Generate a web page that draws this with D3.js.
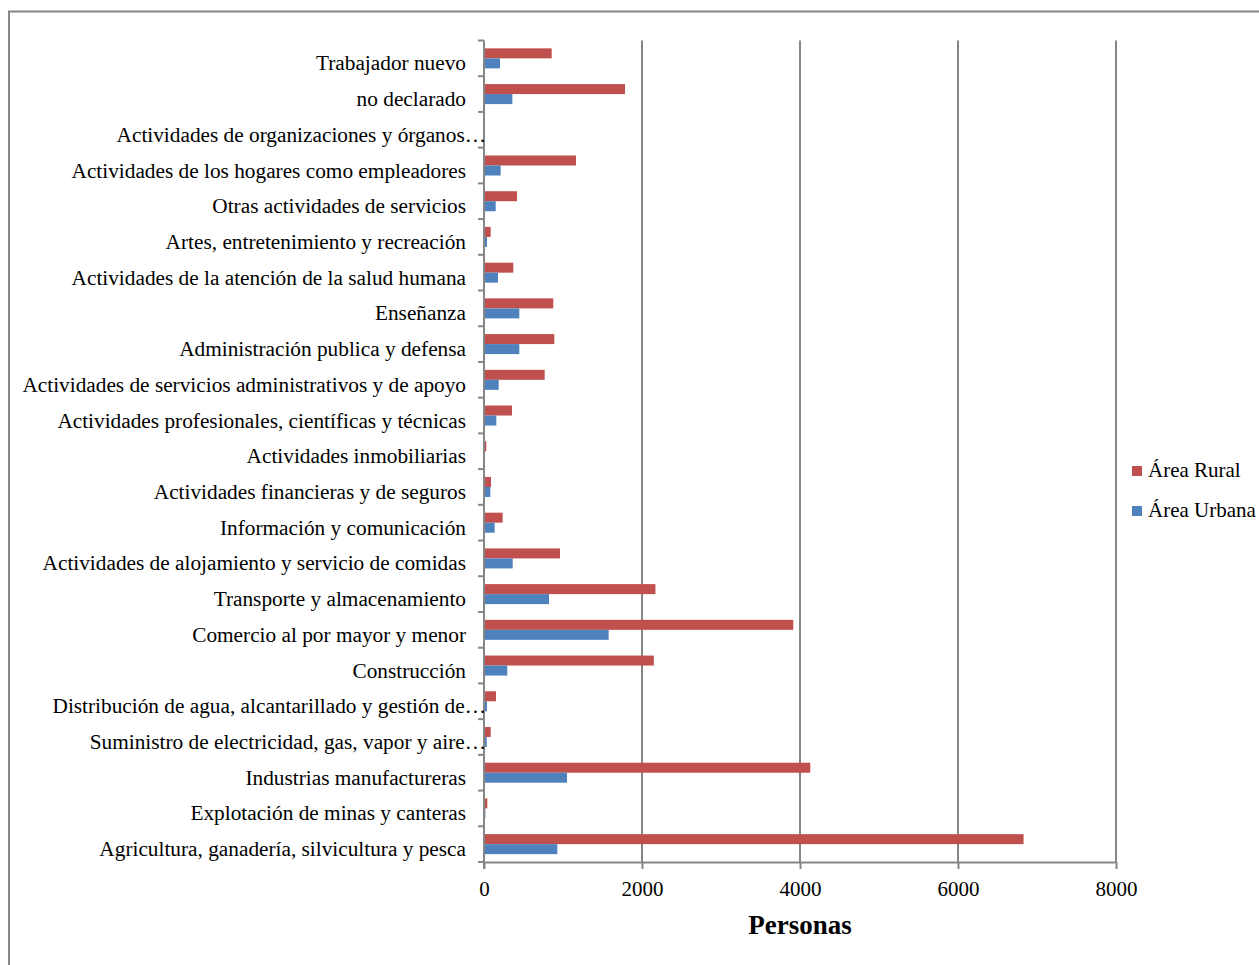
<!DOCTYPE html>
<html>
<head>
<meta charset="utf-8">
<script src="https://cdn.jsdelivr.net/npm/d3@7"></script>
<style>
  html, body { margin: 0; padding: 0; background: #fff; }
  svg { display: block; }
</style>
</head>
<body>
<div id="chart"></div>
<script>
// Categories, listed bottom to top as in the picture
const categories = [
    "Agricultura, ganadería, silvicultura y pesca",
    "Explotación de minas y canteras",
    "Industrias manufactureras",
    "Suministro de electricidad, gas, vapor y aire…",
    "Distribución de agua, alcantarillado y gestión de…",
    "Construcción",
    "Comercio al por mayor y menor",
    "Transporte y almacenamiento",
    "Actividades de alojamiento y servicio de comidas",
    "Información y comunicación",
    "Actividades financieras y de seguros",
    "Actividades inmobiliarias",
    "Actividades profesionales, científicas y técnicas",
    "Actividades de servicios administrativos y de apoyo",
    "Administración publica y defensa",
    "Enseñanza",
    "Actividades de la atención de la salud humana",
    "Artes, entretenimiento y recreación",
    "Otras actividades de servicios",
    "Actividades de los hogares como empleadores",
    "Actividades de organizaciones y órganos…",
    "no declarado",
    "Trabajador nuevo"
];

const ruralValues = [6830, 42, 4130, 85, 152, 2150, 3915, 2170, 962, 236, 89, 29, 354, 768, 890, 877, 371, 85, 418, 1165, 0, 1785, 857];
const urbanValues = [928, 17, 1051, 35, 38, 295, 1578, 823, 363, 135, 80, 0, 156, 186, 447, 447, 177, 38, 148, 211, 0, 359, 203];

const seriesNames = ["Área Rural", "Área Urbana"];
const seriesColors = ["#C0504D", "#4F81BD"];
const xTicks = [0, 2000, 4000, 6000, 8000];
const xTitle = "Personas";

const W = 1259, H = 965;
const margin = { top: 40.5, right: 143, bottom: 103, left: 484 };
const innerW = W - margin.left - margin.right;
const innerH = H - margin.top - margin.bottom;
const gray = "#868686";
const font = "'Liberation Serif', 'Times New Roman', serif";

const rows = categories.map((c, i) => ({
    name: c,
    values: [ruralValues[i], urbanValues[i]]
}));

const svg = d3.select("#chart").append("svg")
    .attr("width", W).attr("height", H);

// outer frame
svg.append("rect")
    .attr("x", 9).attr("y", 11.5)
    .attr("width", W + 10).attr("height", H + 10)
    .attr("fill", "none").attr("stroke", gray).attr("stroke-width", 2);

const g = svg.append("g")
    .attr("transform", `translate(${margin.left},${margin.top})`);

const x = d3.scaleLinear().domain([0, 8000]).range([0, innerW]);

// top-most category first on screen
const y = d3.scaleBand()
    .domain(categories.slice().reverse())
    .range([0, innerH])
    .paddingInner(0.44).paddingOuter(0.22);

const ySub = d3.scaleBand().domain([0, 1]).range([0, y.bandwidth()]);

// Gridlines
g.append("g").selectAll("line")
    .data(xTicks.slice(1)).enter()
    .append("line")
    .attr("x1", d => x(d)).attr("x2", d => x(d))
    .attr("y1", 0).attr("y2", innerH)
    .attr("stroke", gray).attr("stroke-width", 2);

// Bars
const rowG = g.selectAll(".row").data(rows).enter()
    .append("g").attr("class", "row")
    .attr("transform", d => `translate(0,${y(d.name)})`);

rowG.selectAll("rect")
    .data(d => d.values).enter()
    .append("rect")
    .attr("x", x(0))
    .attr("y", (d, i) => ySub(i))
    .attr("width", d => x(d) - x(0))
    .attr("height", ySub.bandwidth())
    .attr("fill", (d, i) => seriesColors[i]);

// X axis
const xAxis = g.append("g")
    .attr("transform", `translate(0,${innerH})`)
    .call(d3.axisBottom(x).tickValues(xTicks).tickFormat(d3.format("d"))
        .tickSize(7).tickSizeOuter(0).tickPadding(12));
xAxis.select(".domain").attr("stroke", gray).attr("stroke-width", 2);
xAxis.selectAll(".tick line").attr("stroke", gray).attr("stroke-width", 2);
xAxis.selectAll("text")
    .attr("fill", "#000")
    .style("font-family", font).style("font-size", "21px");

// Y axis: ticks sit on band boundaries
const step = y.step();
const boundaries = d3.range(categories.length + 1).map(i => i * step);
g.append("line")
    .attr("x1", 0).attr("x2", 0).attr("y1", 0).attr("y2", innerH + 7)
    .attr("stroke", gray).attr("stroke-width", 2);
g.append("g").selectAll("line")
    .data(boundaries).enter()
    .append("line")
    .attr("x1", -6).attr("x2", 0)
    .attr("y1", d => d).attr("y2", d => d)
    .attr("stroke", gray).attr("stroke-width", 2);

// Category labels
g.append("g").selectAll("text")
    .data(categories).enter()
    .append("text")
    .attr("x", d => d.endsWith("…") ? 2 : -18)
    .attr("y", d => y(d) + y.bandwidth() / 2 + 12)
    .attr("text-anchor", "end")
    .attr("fill", "#000")
    .style("font-family", font).style("font-size", "21.3px")
    .text(d => d);

// X title
g.append("text")
    .attr("x", innerW / 2).attr("y", innerH + 72)
    .attr("text-anchor", "middle")
    .attr("fill", "#000")
    .style("font-family", font).style("font-size", "27px").style("font-weight", "bold")
    .text(xTitle);

// Legend
const legend = svg.append("g").attr("transform", "translate(1132,466)");
seriesNames.forEach((s, i) => {
    const lg = legend.append("g").attr("transform", `translate(0,${i * 40})`);
    lg.append("rect").attr("width", 10).attr("height", 10).attr("fill", seriesColors[i]);
    lg.append("text")
        .attr("x", 16).attr("y", 11)
        .attr("fill", "#000")
        .style("font-family", font).style("font-size", "21px")
        .text(s);
});
</script>
</body>
</html>
